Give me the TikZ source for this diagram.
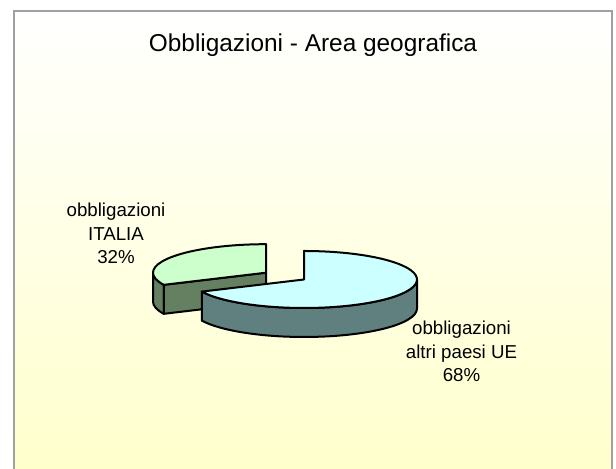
\documentclass[tikz,border=0pt]{standalone}
\usepackage{fontspec}
\setmainfont{Liberation Sans}
\usetikzlibrary{calc}
\definecolor{bgyellow}{RGB}{255,255,204}
\definecolor{framegray}{RGB}{160,160,160}
\definecolor{topcyan}{RGB}{204,255,255}
\definecolor{sidecyan}{RGB}{96,128,128}
\definecolor{topgreen}{RGB}{204,255,204}
\definecolor{sidegreen}{RGB}{100,128,96}
\begin{document}
\begin{tikzpicture}[x=0.5pt,y=0.5pt,
        slice/.style={draw=black,line width=1pt,line join=round},
        pie/.style={x radius=113,y radius=28.5},
        lab/.style={align=center,font=\fontsize{9.35}{11.8}\selectfont}]
        \useasboundingbox (0,0) rectangle (616,469);
        % Background
        \shade[top color=white,bottom color=bgyellow] (13.8,0) rectangle (612.3,458.2);
        \draw[framegray,line width=1pt] (13.8,0) -- (13.8,458.2) -- (612.3,458.2) -- (612.3,0);
        % Title
        \node[anchor=base] (title) at (313,417.3) {\fontsize{12.2}{14.6}\selectfont Obbligazioni - Area geografica};
        % Pie
        \coordinate (cbig) at (304,189.5);
        \coordinate (csmall) at (266,196.3);
        % ITALIA slice (exploded)
        \draw[slice,fill=sidegreen] ($(csmall)+(180:113 and 28.5)$) arc[pie,start angle=180,end angle=205.2] -- ++(0,-29) arc[pie,start angle=205.2,end angle=180] -- cycle;
        \draw[slice,fill=sidegreen] (csmall) -- ($(csmall)+(205.2:113 and 28.5)$) -- ++(0,-29) -- ($(csmall)+(0,-29)$) -- cycle;
        \draw[slice,fill=topgreen] (csmall) -- ($(csmall)+(90:113 and 28.5)$) arc[pie,start angle=90,end angle=205.2] -- cycle;
        % altri paesi UE slice
        \draw[slice,fill=sidecyan] ($(cbig)+(205.2:113 and 28.5)$) arc[pie,start angle=205.2,end angle=360] -- ++(0,-29) arc[pie,start angle=360,end angle=205.2] -- cycle;
        \draw[slice,fill=topcyan] (cbig) -- ($(cbig)+(205.2:113 and 28.5)$) arc[pie,start angle=205.2,end angle=450] -- cycle;
        % Labels
        \node[lab] (labItalia) at (116,235.6) {obbligazioni\\ITALIA\\32\%};
        \node[lab] (labUE) at (461.5,117.3) {obbligazioni\\altri paesi UE\\68\%};
    \end{tikzpicture}
\end{document}
